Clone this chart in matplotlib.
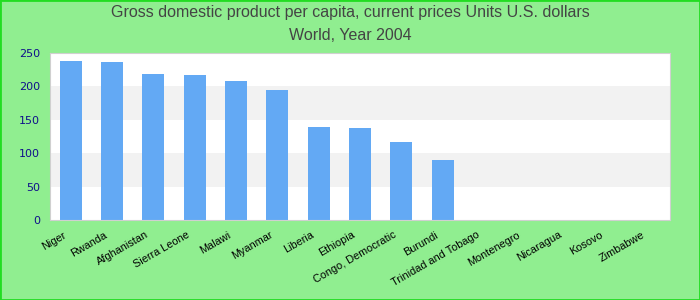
import matplotlib
matplotlib.use('Agg')
import matplotlib.pyplot as plt
import matplotlib.transforms as mtransforms
import numpy as np

# GDP per capita, current prices (USD), 2004
countries = ['Niger', 'Rwanda', 'Afghanistan', 'Sierra Leone', 'Malawi', 'Myanmar',
             'Liberia', 'Ethiopia', 'Congo, Democratic', 'Burundi', 'Trinidad and Tobago',
             'Montenegro', 'Nicaragua', 'Kosovo', 'Zimbabwe']
gdp = [238.5, 237, 219, 217.5, 208.5, 195, 139.5, 138, 117, 90, 0, 0, 0, 0, 0]
yticks = [0, 50, 100, 150, 200, 250]

fig = plt.figure(figsize=(7, 3), dpi=100, facecolor='#90ee90')
fig.patches.append(plt.Rectangle((0, 0), 1, 1, transform=fig.transFigure,
                                 fill=False, edgecolor='#22dd22', linewidth=2))
ax = fig.add_axes([50/700, 80/300, 620/700, 167/300])
ax.set_facecolor('white')

# alternating bands
for i in range(len(yticks) - 1):
    if i % 2 == 1:
        ax.axhspan(yticks[i], yticks[i+1], color='#f2f2f2', zorder=0, linewidth=0)

x = np.arange(len(countries))
ax.bar(x, gdp, width=0.53, color='#63a9f4', zorder=2)
ax.set_xlim(-0.5, len(countries) - 0.5)
ax.set_ylim(0, 250)
ax.set_yticks(yticks)
ax.set_yticklabels([str(t) for t in yticks], color='#10108a', fontsize=8)
ax.set_xticks(x)
ax.set_xticklabels(countries, rotation=30, ha='right', rotation_mode='anchor',
                   fontsize=7.8, family='Liberation Sans')
ax.tick_params(length=0, pad=7)
shift = mtransforms.ScaledTranslation(-8/100, 0, fig.dpi_scale_trans)
for lbl in ax.get_xticklabels():
    lbl.set_transform(lbl.get_transform() + shift)
for s in ax.spines.values():
    s.set_color('#d0d0d0')

fig.text(0.5, 1 - 13/300, 'Gross domestic product per capita, current prices Units U.S. dollars',
         ha='center', va='center', fontsize=11.5, color='#444444', family='Liberation Sans')
fig.text(0.5, 1 - 36/300, 'World, Year 2004',
         ha='center', va='center', fontsize=11.5, color='#444444', family='Liberation Sans')

fig.savefig('out.png', dpi=100, facecolor=fig.get_facecolor())
